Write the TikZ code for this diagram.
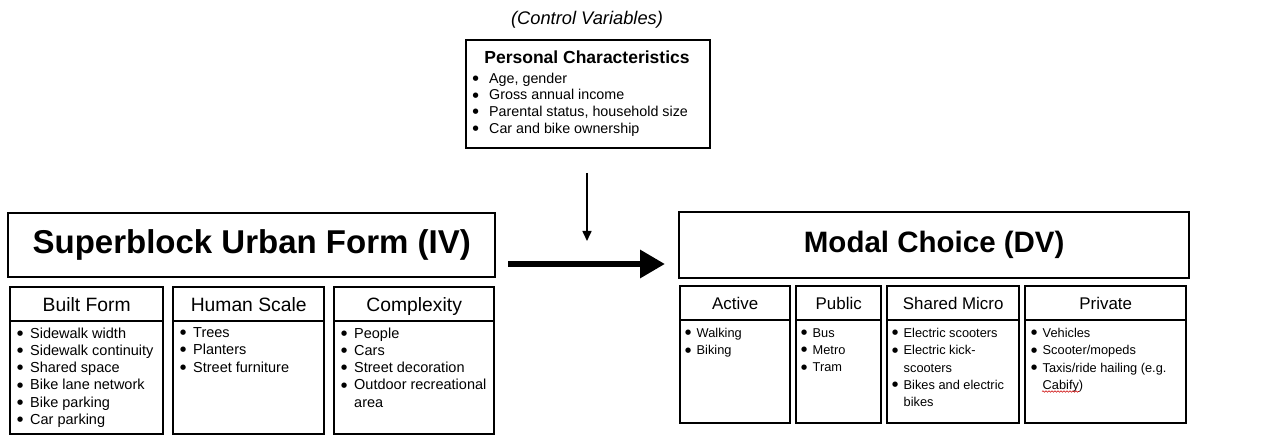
\documentclass[tikz,border=0pt]{standalone}
\usepackage{fontspec}
\setmainfont{Liberation Sans}
\newfontfamily\symfont{DejaVu Sans}
\usetikzlibrary{arrows.meta,decorations.pathmorphing}

% bullet item with a fixed-width bullet column, and a continuation line
\newcommand{\bigbul}{\raisebox{0.2em}{\symfont\fontsize{7}{7}\selectfont ●}}
\newcommand{\itm}[2]{\makebox[#1][l]{\bigbul}#2}
\newcommand{\cnt}[2]{\hspace*{#1}#2}

\begin{document}
\begin{tikzpicture}[x=1pt,y=-1pt,
  box/.style={draw, line width=2.4pt, inner sep=0pt, anchor=north west},
  list/.style={anchor=north west, inner sep=0pt, align=left},
  bigtitle/.style={font=\fontsize{#1}{#1}\selectfont\bfseries},
  lhead/.style={font=\fontsize{19.3}{22}\selectfont, text height=15.8pt, text depth=2pt},
  rhead/.style={font=\fontsize{16.9}{20}\selectfont, text height=14.1pt, text depth=2pt},
  litems/.style={list, font=\fontsize{14.5}{17.3}\selectfont},
  ritems/.style={list, font=\fontsize{12.8}{17.3}\selectfont},
]
\useasboundingbox[fill=white] (0,0) rectangle (1270,435);

% ---- control variables ----
\node[font=\fontsize{18.3}{22}\selectfont\itshape, anchor=base] (cvlabel) at (587,25) {(Control Variables)};
\node[box, minimum width=244pt, minimum height=108pt] (pc) at (465,39) {};
\node[font=\fontsize{17.5}{21}\selectfont\bfseries, anchor=base] (pctitle) at (587,64) {Personal Characteristics};
\node[list, font=\fontsize{14.3}{16.8}\selectfont] (pclist) at (472.5,72.6) {%
  \itm{16.5pt}{Age, gender}\\
  \itm{16.5pt}{Gross annual income}\\
  \itm{16.5pt}{Parental status, household size}\\
  \itm{16.5pt}{Car and bike ownership}};

% ---- independent variable ----
\node[box, bigtitle=33, minimum width=487pt, minimum height=64pt] (iv) at (7,212) {Superblock Urban Form (IV)};

\node[box, lhead, minimum width=153pt, minimum height=34pt] (bfh) at (9,286) {Built Form};
\node[box, minimum width=153pt, minimum height=113pt] (bfb) at (9,320) {};
\node[litems] (bfl) at (17,327.3) {%
  \itm{13pt}{Sidewalk width}\\
  \itm{13pt}{Sidewalk continuity}\\
  \itm{13pt}{Shared space}\\
  \itm{13pt}{Bike lane network}\\
  \itm{13pt}{Bike parking}\\
  \itm{13pt}{Car parking}};

\node[box, lhead, minimum width=151pt, minimum height=34pt] (hsh) at (172,286) {Human Scale};
\node[box, minimum width=151pt, minimum height=113pt] (hsb) at (172,320) {};
\node[litems] (hsl) at (180,327.3) {%
  \itm{13pt}{Trees}\\
  \itm{13pt}{Planters}\\
  \itm{13pt}{Street furniture}};

\node[box, lhead, minimum width=160pt, minimum height=34pt] (cxh) at (333,286) {Complexity};
\node[box, minimum width=160pt, minimum height=113pt] (cxb) at (333,320) {};
\node[litems] (cxl) at (341,327.3) {%
  \itm{13pt}{People}\\
  \itm{13pt}{Cars}\\
  \itm{13pt}{Street decoration}\\
  \itm{13pt}{Outdoor recreational}\\
  \cnt{13pt}{area}};

% ---- dependent variable ----
\node[box, bigtitle=29.5, minimum width=510pt, minimum height=66pt] (dv) at (678,211) {Modal Choice (DV)};

\node[box, rhead, minimum width=110pt, minimum height=34pt] (ach) at (679,285) {Active};
\node[box, minimum width=110pt, minimum height=103pt] (acb) at (679,319) {};
\node[ritems] (acl) at (685,328) {%
  \itm{11.5pt}{Walking}\\
  \itm{11.5pt}{Biking}};

\node[box, rhead, minimum width=85pt, minimum height=34pt] (puh) at (795,285) {Public};
\node[box, minimum width=85pt, minimum height=103pt] (pub) at (795,319) {};
\node[ritems] (pul) at (801,328) {%
  \itm{11.5pt}{Bus}\\
  \itm{11.5pt}{Metro}\\
  \itm{11.5pt}{Tram}};

\node[box, rhead, minimum width=132pt, minimum height=34pt] (smh) at (886,285) {Shared Micro};
\node[box, minimum width=132pt, minimum height=103pt] (smb) at (886,319) {};
\node[ritems] (sml) at (892,328) {%
  \itm{11.5pt}{Electric scooters}\\
  \itm{11.5pt}{Electric kick-}\\
  \cnt{11.5pt}{scooters}\\
  \itm{11.5pt}{Bikes and electric}\\
  \cnt{11.5pt}{bikes}};

\node[box, rhead, minimum width=161pt, minimum height=34pt] (prh) at (1024,285) {Private};
\node[box, minimum width=161pt, minimum height=103pt] (prb) at (1024,319) {};
\node[ritems] (prl) at (1031,328) {%
  \itm{11.5pt}{Vehicles}\\
  \itm{11.5pt}{Scooter/mopeds}\\
  \itm{11.5pt}{Taxis/ride hailing (e.g.}\\
  \cnt{11.5pt}{Cabify)}};
% spell-check squiggle under "Cabify"
\draw[red!80!black, line width=0.6pt, decorate,
      decoration={snake, amplitude=0.7pt, segment length=3pt}]
  (1042,391.5) -- (1079,391.5);

% ---- arrows ----
\coordinate (cvtop) at (587,173);
\coordinate (cvtip) at (587,241);
\draw[line width=1.6pt, -{Triangle[length=10pt,width=9pt]}] (cvtop) -- (cvtip);

\coordinate (mainstart) at (508,264);
\coordinate (maintip) at (665,264);
\draw[line width=6.7pt, -{Triangle[length=25pt,width=27pt]}] (mainstart) -- (maintip);
\end{tikzpicture}
\end{document}
